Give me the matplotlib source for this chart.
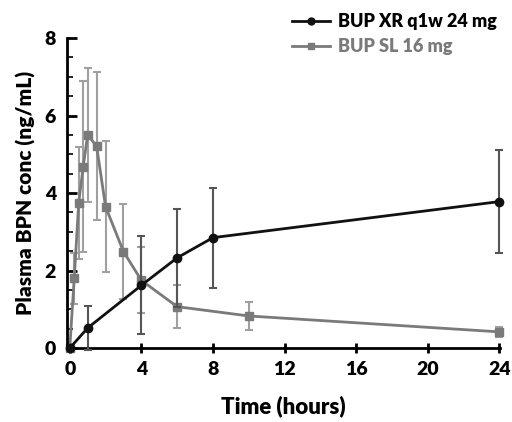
import numpy as np
import matplotlib
matplotlib.use("Agg")
import matplotlib.pyplot as plt
from matplotlib.ticker import MultipleLocator
from matplotlib.lines import Line2D

plt.rcParams["font.family"] = ["Lato", "DejaVu Sans"]
plt.rcParams["font.weight"] = "heavy"

# BUP XR q1w 24 mg
xr_time = [0, 1, 4, 6, 8, 24]
xr_conc = [0, 0.52, 1.62, 2.33, 2.85, 3.78]
xr_err = [0, 0.57, 1.26, 1.27, 1.29, 1.33]

# BUP SL 16 mg
sl_time = [0, 0.25, 0.5, 0.75, 1, 1.5, 2, 3, 4, 6, 10, 24]
sl_conc = [0, 1.80, 3.75, 4.68, 5.50, 5.21, 3.65, 2.49, 1.75, 1.07, 0.83, 0.42]
sl_err = [0, 0.65, 1.45, 2.2, 1.72, 1.9, 1.68, 1.23, 0.85, 0.55, 0.35, 0.12]

fig = plt.figure(figsize=(5.12, 4.22), dpi=100)
ax = fig.add_axes([0.131, 0.175, 0.846, 0.735])

sl_color = "#7a7a7a"
xr_color = "#111111"
ax.errorbar(sl_time, sl_conc, yerr=sl_err, color=sl_color, ecolor="#a0a0a0",
            marker="s", markersize=5.5, lw=2, elinewidth=1.5, capsize=3,
            capthick=1.5, zorder=2, clip_on=False)
ax.errorbar(xr_time, xr_conc, yerr=xr_err, color=xr_color, ecolor="#555555",
            marker="o", markersize=6, lw=2, elinewidth=1.5, capsize=3,
            capthick=1.5, zorder=3, clip_on=False)

ax.set_xlim(-0.15, 24.05)
ax.set_ylim(0, 8)
ax.set_xticks([0, 4, 8, 12, 16, 20, 24])
ax.set_yticks([0, 2, 4, 6, 8])
ax.yaxis.set_minor_locator(MultipleLocator(0.5))
ax.spines["top"].set_visible(False)
ax.spines["right"].set_visible(False)
for s in ["left", "bottom"]:
    ax.spines[s].set_linewidth(2)
ax.tick_params(axis="x", direction="inout", length=7, width=2, labelsize=14, pad=6)
ax.tick_params(axis="y", which="major", direction="in", length=7, width=2, labelsize=14, pad=8)
ax.tick_params(axis="y", which="minor", direction="in", length=4, width=1.2)

ax.set_xlabel("Time (hours)", fontsize=16, fontweight="heavy", labelpad=12)
ax.set_ylabel("Plasma BPN conc (ng/mL)", fontsize=15, fontweight="heavy", labelpad=6)

handles = [
    Line2D([], [], color=xr_color, lw=2, marker="o", markersize=5),
    Line2D([], [], color=sl_color, lw=2, marker="s", markersize=4.5),
]
labels = ["BUP XR q1w 24 mg", "BUP SL 16 mg"]
leg = fig.legend(handles, labels, loc="upper left",
                 bbox_to_anchor=(0.553, 0.99), frameon=False, borderpad=0,
                 handlelength=2.1, handletextpad=0.45, labelspacing=0.45,
                 prop={"weight": "heavy", "size": 13})
leg.get_texts()[1].set_color(sl_color)

fig.savefig("out.png", dpi=100)
